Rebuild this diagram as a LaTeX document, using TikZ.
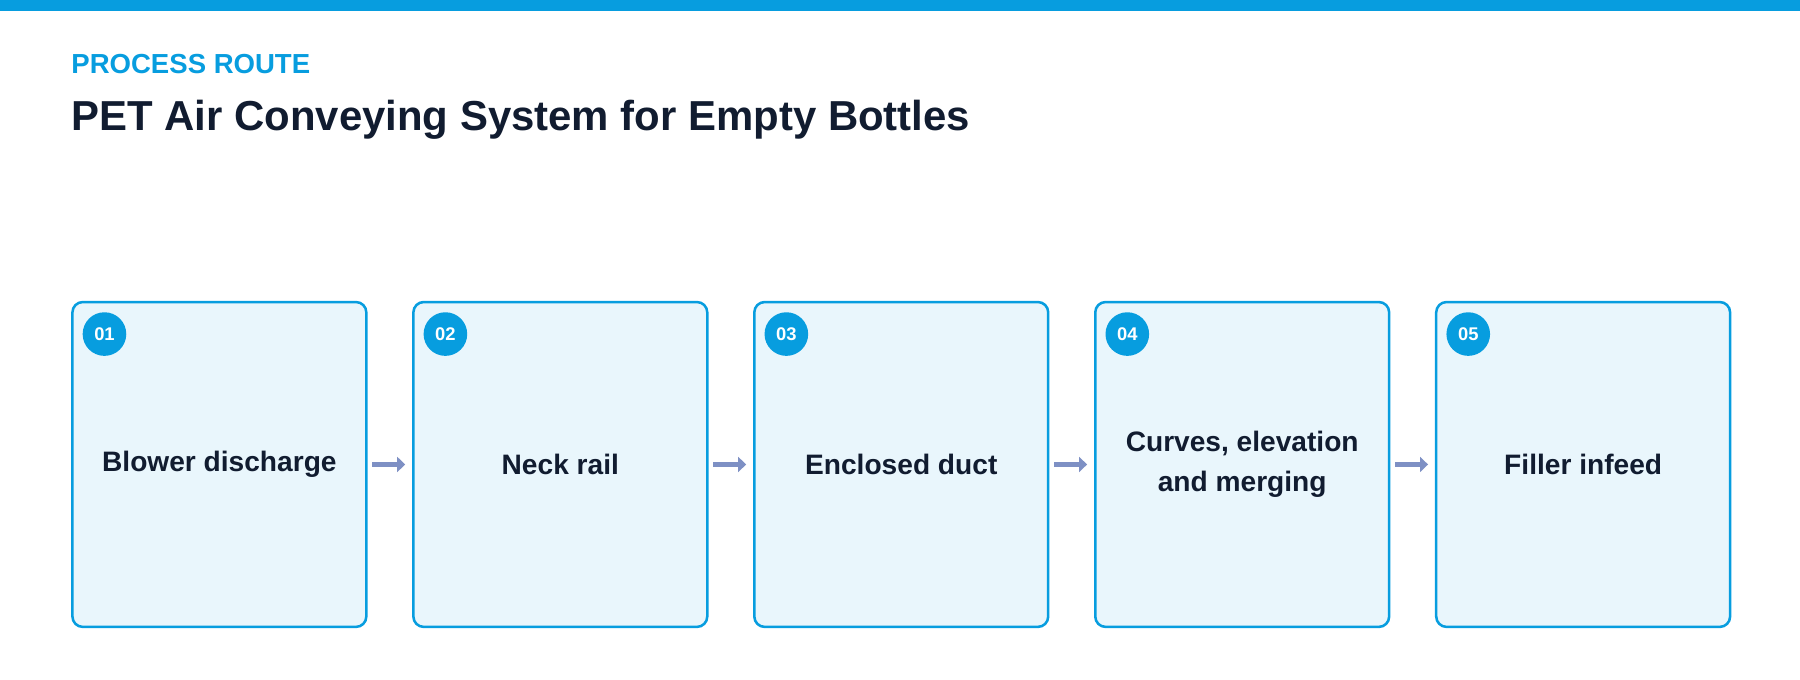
\documentclass[tikz,border=0pt]{standalone}
\usepackage{fontspec}
\setmainfont{Liberation Sans}
\usetikzlibrary{arrows.meta}
\definecolor{accent}{HTML}{079DDF}
\definecolor{boxfill}{HTML}{E9F6FC}
\definecolor{ink}{HTML}{111C30}
\definecolor{arr}{HTML}{7E90C4}
\begin{document}
\begin{tikzpicture}[x=1pt,y=-1pt,
  stagebox/.style={draw=accent,line width=2.2pt,fill=boxfill,rounded corners=9pt,minimum width=256pt,minimum height=283pt,anchor=north west,inner sep=0pt},
  lbl/.style={font=\bfseries\fontsize{24.5}{35}\selectfont,text=ink,align=center},
  badge/.style={circle,fill=accent,minimum size=38pt,inner sep=0pt,text=white,font=\bfseries\fontsize{16}{16}\selectfont},
  flow/.style={draw=arr,line width=5pt,-{Triangle[length=7pt,width=13pt]}}]
\useasboundingbox (0,0) rectangle (1568,592);
\fill[accent] (0,0) rectangle (1568,10);
\node[anchor=base west,inner sep=0pt,text=accent,font=\bfseries\fontsize{24}{26}\selectfont] (kicker) at (62,64) {PROCESS ROUTE};
\node[anchor=base west,inner sep=0pt,text=ink,font=\bfseries\fontsize{36.5}{40}\selectfont] (title) at (62,114) {PET Air Conveying System for Empty Bottles};
\foreach \i/\x/\t in {1/62/Blower discharge,2/359/Neck rail,3/656/Enclosed duct,4/953/{Curves, elevation\\and merging},5/1250/Filler infeed}{
  \node[stagebox] (b\i) at (\x,262) {};
  \node[badge] (n\i) at (\x+29,291) {0\i};
  \node[lbl] (t\i) at (b\i.center) {\t};
}
\foreach \a/\b in {1/2,2/3,3/4,4/5}{
  \draw[flow] ([xshift=4pt]b\a.east) -- ([xshift=-6pt]b\b.west);
}
\end{tikzpicture}
\end{document}
